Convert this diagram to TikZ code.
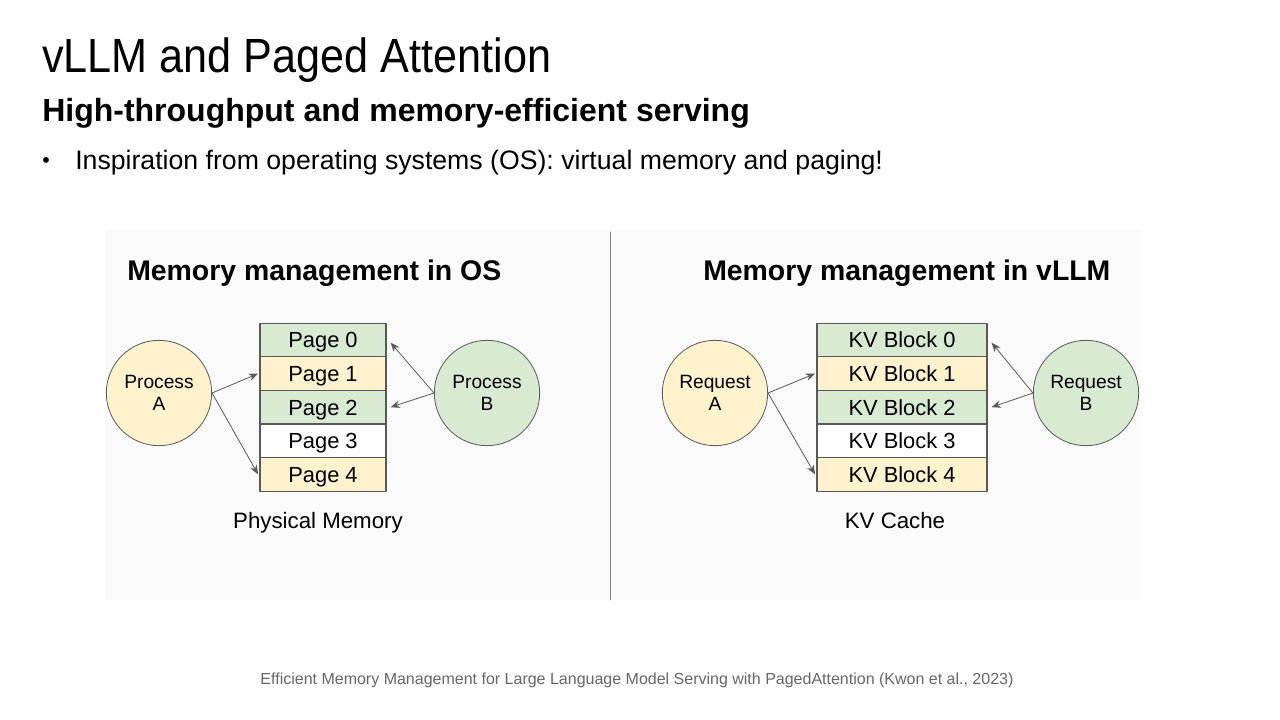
\documentclass[tikz,border=0pt]{standalone}
\usepackage{fontspec}
\setmainfont{Liberation Sans}
\usetikzlibrary{arrows.meta}
\definecolor{pagegreen}{HTML}{D9EAD3}
\definecolor{pageyellow}{HTML}{FFF2CC}
\definecolor{edgegray}{HTML}{595959}
\definecolor{panelgray}{HTML}{FAFAFA}
\definecolor{notegray}{HTML}{666666}
\begin{document}
\begin{tikzpicture}[x=0.75pt, y=-0.75pt, line join=round, line cap=round, >={Stealth[length=7pt, width=5.5pt]},
  txt/.style={inner sep=0pt, anchor=base west},
  cell/.style={draw=edgegray, line width=0.9pt, minimum height=25.2pt, inner sep=0pt, text height=11.7pt, text depth=0pt, font=\fontsize{16.4}{18}\selectfont},
  proc/.style={circle, draw=edgegray, line width=0.6pt, minimum size=79pt, inner sep=0pt, align=center, font=\fontsize{14.4}{17}\selectfont},
  link/.style={->, draw=edgegray, line width=0.6pt}]
\useasboundingbox (0,0) rectangle (1280,720);
% slide header
\path
(42,73) node[txt, font=\fontsize{36}{40}\selectfont] (title) {\scalebox{0.9}[1]{vLLM and Paged Attention}}
(42,122) node[txt, font=\bfseries\fontsize{24}{26}\selectfont] (subtitle) {High-throughput and memory-efficient serving}
(42,168) node[txt, font=\fontsize{16}{20}\selectfont] (dot) {\textbullet}
(75,170) node[txt, font=\fontsize{20}{22}\selectfont] (bullet) {Inspiration from operating systems (OS): virtual memory and paging!};
% panel
\fill[panelgray] (105,230) rectangle (1140,600);
\draw[gray, line width=0.6pt] (610,232) coordinate (top) -- (610,600) coordinate (bot);
\path
(127,280) node[txt, font=\bfseries\fontsize{21.3}{24}\selectfont] (osHead) {Memory management in OS}
(703,280) node[txt, font=\bfseries\fontsize{21.3}{24}\selectfont] (llmHead) {Memory management in vLLM};
% tables
\foreach \i/\c in {0/pagegreen,1/pageyellow,2/pagegreen,3/white,4/pageyellow}{
  \node[cell, fill=\c, minimum width=94.5pt] (p\i) at (323, 340+33.6*\i) {Page \i};
  \node[cell, fill=\c, minimum width=127.5pt] (k\i) at (902, 340+33.6*\i) {KV Block \i};
}
\path
(318,528) node[txt, anchor=base, font=\fontsize{16.7}{18}\selectfont] (phys) {Physical Memory}
(895,528) node[txt, anchor=base, font=\fontsize{16.7}{18}\selectfont] (cache) {KV Cache};
% processes and requests
\node[proc, fill=pageyellow] (procA) at (159,393) {Process\\A};
\node[proc, fill=pagegreen] (procB) at (487,393) {Process\\B};
\node[proc, fill=pageyellow] (reqA) at (715,393) {Request\\A};
\node[proc, fill=pagegreen] (reqB) at (1086,393) {Request\\B};
\draw[link] (procA.east) -- ([xshift=-1pt]p1.west);
\draw[link] (procA.east) -- ([xshift=-1pt]p4.west);
\draw[link] (procB.west) -- ([xshift=3pt,yshift=-2pt]p0.east);
\draw[link] (procB.west) -- ([xshift=3pt]p2.east);
\draw[link] (reqA.east) -- ([xshift=-1pt]k1.west);
\draw[link] (reqA.east) -- ([xshift=-1pt]k4.west);
\draw[link] (reqB.west) -- ([xshift=3pt,yshift=-2pt]k0.east);
\draw[link] (reqB.west) -- ([xshift=3pt]k2.east);
% reference
\node[txt, anchor=base, text=notegray, font=\fontsize{12}{13}\selectfont] (ref) at (637,684)
  {Efficient Memory Management for Large Language Model Serving with PagedAttention (Kwon et al., 2023)};
\end{tikzpicture}
\end{document}
